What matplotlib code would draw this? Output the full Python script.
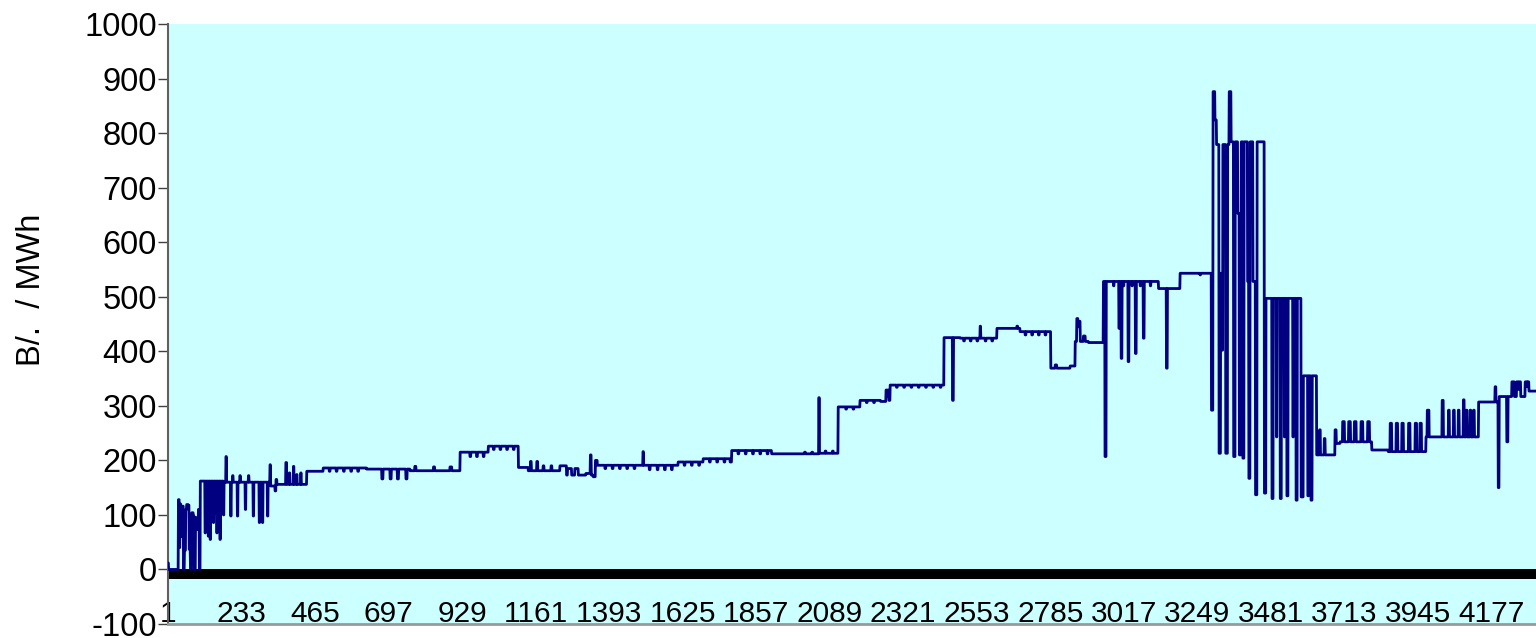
import matplotlib.pyplot as plt
import numpy as np

plt.rcParams['font.family'] = ['Liberation Sans', 'DejaVu Sans']
plt.rcParams['axes.unicode_minus'] = False

# hourly marginal price, stored as: index where a new level starts -> level held from there
change_at = [
    1, 3, 34, 37, 39, 42, 45, 50, 53, 57, 60, 64, 68, 72, 76, 81, 84, 88, 94, 97, 100, 103,
    118, 120, 123, 125, 128, 130, 134, 136, 139, 141, 144, 146, 149, 151, 155, 157, 160, 162, 165, 167, 170, 172, 176, 178,
    184, 186, 199, 201, 205, 207, 220, 222, 228, 230, 245, 247, 255, 257, 270, 272, 289, 291, 299, 301, 315, 317,
    323, 325, 339, 342, 345, 373, 376, 384, 386, 397, 399, 407, 409, 420, 422,
    439, 491, 510, 513, 532, 535, 555, 558, 578, 581, 600, 603,
    628, 676, 680, 702, 706, 725, 729, 752, 756,
    765, 780, 784, 839, 843, 891, 897,
    923, 954, 957, 975, 978, 996, 999,
    1012, 1028, 1031, 1049, 1052, 1070, 1073, 1091, 1094,
    1107, 1138, 1145, 1148, 1165, 1168, 1185, 1188, 1210, 1213,
    1238, 1259, 1262, 1275, 1285, 1296, 1320, 1334, 1337, 1343, 1350, 1356,
    1380, 1383, 1403, 1406, 1426, 1429, 1449, 1452, 1472, 1475, 1500, 1502,
    1520, 1523, 1545, 1548, 1568, 1571, 1590, 1593,
    1611, 1630, 1633, 1653, 1656, 1676, 1679,
    1690, 1710, 1713, 1733, 1736, 1756, 1759, 1775,
    1780, 1800, 1803, 1823, 1826, 1846, 1849, 1869, 1872, 1892, 1895,
    1906, 2010, 2013, 2033, 2036, 2055, 2057, 2075, 2078, 2098, 2101,
    2116, 2140, 2143, 2163, 2166,
    2185, 2205, 2208, 2228, 2231, 2250, 2267, 2270, 2273, 2276,
    2280, 2300, 2303, 2323, 2326, 2346, 2349, 2369, 2372, 2392, 2395, 2415, 2418, 2438, 2441,
    2450, 2477, 2480, 2501, 2512, 2515, 2533, 2536, 2554, 2557, 2564, 2566, 2580, 2583, 2601, 2604,
    2617, 2680, 2683,
    2690, 2706, 2709, 2727, 2730, 2748, 2751, 2769, 2772,
    2787, 2801, 2806, 2848,
    2864, 2869, 2873, 2876, 2880, 2890, 2896, 2906,
    2953, 2958, 2962, 2985, 2987, 3002, 3004, 3009, 3012, 3016, 3018, 3031, 3034, 3043, 3045,
    3054, 3057, 3069, 3071, 3079, 3082, 3101, 3103,
    3127, 3152, 3155,
    3195, 3258, 3260,
    3294, 3299, 3305, 3310, 3318, 3323, 3326, 3330, 3339, 3345, 3350, 3356, 3364, 3369, 3377, 3382,
    3388, 3393, 3397, 3408, 3412, 3416, 3425, 3433, 3438, 3461, 3466, 3485, 3489, 3499, 3501, 3511,
    3515, 3524, 3526, 3532, 3536, 3551, 3553, 3561, 3565, 3577, 3584, 3598, 3601, 3608, 3612,
    3626, 3635, 3638, 3650, 3653, 3684, 3688, 3700,
    3708, 3714, 3727, 3733, 3745, 3751, 3766, 3772, 3787, 3793,
    3800, 3852, 3858, 3863, 3877, 3882, 3895, 3900, 3916, 3921, 3937, 3942, 3952, 3957,
    3971, 3975, 3981, 4022, 4026, 4042, 4045, 4058, 4061, 4073, 4076, 4089, 4092, 4098, 4101,
    4110, 4113, 4121, 4124,
    4137, 4189, 4192, 4199, 4202, 4226, 4230, 4242, 4250, 4257, 4263, 4266, 4270, 4284, 4290, 4292, 4296,
]
price = [
    12, 0, 128, 40, 120, 60, 116, 0, 35, 110, 119, 118, 37, 0, 104, 98, 0, 95, 73, 110, 0, 162,
    67, 162, 86, 162, 61, 162, 55, 162, 98, 162, 86, 162, 104, 162, 67, 162, 79, 162, 55, 162, 110, 162, 100, 160,
    207, 160, 98, 160, 172, 160, 98, 160, 172, 160, 110, 160, 172, 160, 98, 160, 86, 160, 86, 160, 98, 160,
    192, 153, 144, 165, 156, 196, 156, 177, 156, 189, 156, 174, 156, 177, 156,
    180, 186, 180, 186, 180, 186, 180, 186, 180, 186, 180, 186,
    184, 166, 184, 166, 184, 166, 184, 166, 184,
    181, 189, 181, 188, 181, 188, 181,
    215, 207, 215, 207, 215, 207, 215,
    226, 220, 226, 220, 226, 220, 226, 220, 226,
    187, 181, 198, 181, 198, 181, 190, 181, 190, 181,
    190, 173, 185, 173, 185, 173, 176, 210, 173, 170, 200, 191,
    185, 191, 185, 191, 185, 191, 185, 191, 185, 191, 216, 191,
    183, 191, 183, 191, 183, 191, 183, 191,
    197, 191, 197, 191, 197, 191, 197,
    203, 197, 203, 197, 203, 197, 203, 197,
    218, 212, 218, 212, 218, 212, 218, 212, 218, 212, 218,
    212, 215, 212, 215, 212, 315, 213, 217, 213, 217, 213,
    298, 294, 298, 294, 298,
    310, 306, 310, 306, 310, 308, 329, 318, 329, 310,
    338, 334, 338, 334, 338, 334, 338, 334, 338, 334, 338, 334, 338, 334, 338,
    425, 310, 425, 424, 419, 424, 419, 424, 419, 424, 446, 424, 419, 424, 419, 424,
    442, 446, 442,
    436, 430, 436, 430, 436, 430, 436, 430, 436,
    369, 375, 369, 373,
    418, 460, 445, 455, 418, 428, 418, 416,
    528, 207, 528, 520, 528, 442, 528, 387, 528, 520, 528, 381, 528, 520, 528,
    396, 528, 520, 528, 424, 528, 520, 528,
    515, 369, 515,
    543, 540, 543,
    292, 876, 824, 779, 213, 543, 402, 779, 213, 779, 876, 784, 207, 784, 653, 210,
    784, 204, 784, 528, 167, 784, 528, 137, 784, 140, 497, 130, 497, 243, 497, 130,
    497, 243, 497, 135, 497, 243, 497, 127, 497, 133, 355, 135, 355, 127, 355,
    210, 256, 210, 240, 210, 256, 231, 234,
    271, 234, 271, 234, 271, 234, 271, 234, 271, 234,
    219, 216, 268, 216, 268, 216, 268, 216, 268, 216, 268, 216, 268, 216,
    243, 292, 243, 310, 243, 292, 243, 292, 243, 292, 243, 311, 243, 292, 243,
    292, 243, 292, 243,
    307, 335, 307, 150, 317, 234, 317, 344, 317, 344, 330, 344, 317, 344, 335, 344, 327,
]
n_hours = 4318
tick_pos = list(range(1, 4178, 232))

# hold each level until the next change
series = np.zeros(n_hours)
for k, start in enumerate(change_at):
    end = change_at[k + 1] if k + 1 < len(change_at) else n_hours + 1
    series[start - 1:end - 1] = price[k]
hours = np.arange(1, n_hours + 1)

fig = plt.figure(figsize=(15.36, 6.38), dpi=100)
ax = fig.add_axes([168 / 1536, 14 / 638, 1 - 168 / 1536, 600 / 638])
ax.set_facecolor('#CCFFFF')

ax.axhline(-8.3, color='black', lw=7.2, zorder=2)
ax.plot(hours, series, color='#000080', lw=2.0, zorder=3)

ax.set_xlim(1, n_hours)
ax.set_ylim(-100, 1000)
ax.set_yticks(range(-100, 1001, 100))
ax.set_xticks(tick_pos)
ax.set_xticklabels([str(t) for t in tick_pos])
ax.tick_params(axis='y', direction='out', length=7, width=1, labelsize=23.5, pad=1, color='#404040')
ax.tick_params(axis='x', length=0, labelsize=21.5, pad=-17)

for s in ['top', 'right']:
    ax.spines[s].set_visible(False)
ax.spines['left'].set_color('#606060')
ax.spines['left'].set_linewidth(1.5)
ax.spines['bottom'].set_color('#999999')
ax.spines['bottom'].set_linewidth(2)

fig.text(32 / 1536, 1 - 290 / 638, 'B/.  / MWh', rotation=90, ha='center', va='center', fontsize=23.5)

fig.savefig('out.png', dpi=100, facecolor='white')
